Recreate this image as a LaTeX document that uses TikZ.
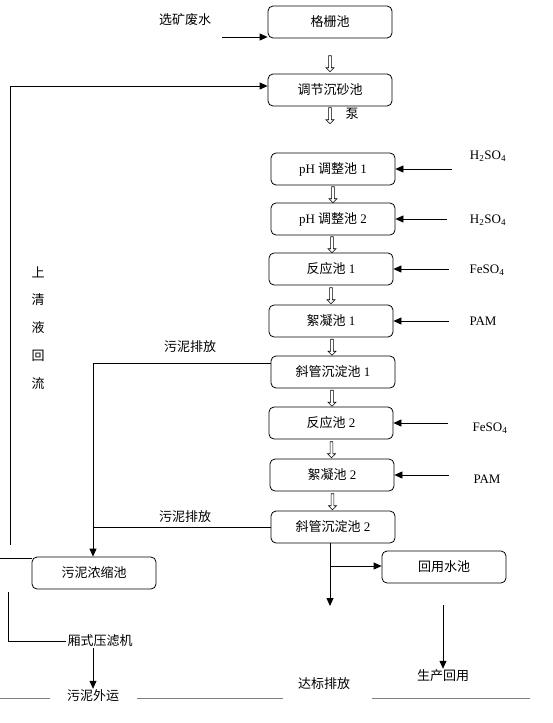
\documentclass[tikz,border=0pt]{standalone}
\usepackage{fontspec}
\setmainfont{Liberation Serif}
\newfontfamily\cjk{Noto Sans CJK SC}
\usepackage{tikz}
\usetikzlibrary{arrows.meta, shapes.arrows}
\tikzset{
    flowchart/.style={font=\fontsize{13}{15}\selectfont},
    pool/.style={rounded corners=5pt, draw, line width=0.8pt, align=center,
        minimum width=124pt, minimum height=32pt},
    flow arrow/.style={-{Triangle[length=8pt, width=7pt]}, line width=0.8pt},
    flow line/.style={line width=0.8pt},
    pipe/.style={draw, single arrow, shape border rotate=270, line width=0.6pt,
        minimum height=16pt, minimum width=8pt, inner sep=0.8pt,
        single arrow head extend=2pt, single arrow tip angle=90},
    plain label/.style={inner sep=1pt},
}

\begin{document}
\begin{tikzpicture}[flowchart, x=1pt, y=-1pt]
    \useasboundingbox (0,0) rectangle (552,723);

    % main line of pools
    \node[pool] (gezha) at (330,22) {\cjk 格栅池};
    \node[pool] (tiaojie) at (330,90) {\cjk 调节沉砂池};
    \node[pool] (ph1) at (333,169) {pH {\cjk 调整池} 1};
    \node[pool] (ph2) at (333,219) {pH {\cjk 调整池} 2};
    \node[pool] (fy1) at (331,269) {{\cjk 反应池} 1};
    \node[pool] (xn1) at (331,321) {{\cjk 絮凝池} 1};
    \node[pool] (xg1) at (333,372) {{\cjk 斜管沉淀池} 1};
    \node[pool] (fy2) at (331,423) {{\cjk 反应池} 2};
    \node[pool] (xn2) at (332,475) {{\cjk 絮凝池} 2};
    \node[pool] (xg2) at (333,527) {{\cjk 斜管沉淀池} 2};
    \node[pool] (huiyong) at (444,567) {\cjk 回用水池};
    \node[pool] (nongsuo) at (94,573) {\cjk 污泥浓缩池};

    % hollow arrows between pools
    \node[pipe] (p0) at (330,63) {};
    \node[pipe] (p1) at (330,115) {};
    \node[plain label] (beng) at (352,114) {\cjk 泵};
    \path (ph1) -- node[pipe] {} (ph2);
    \path (ph2) -- node[pipe] {} (fy1);
    \path (fy1) -- node[pipe] {} (xn1);
    \path (xn1) -- node[pipe] {} (xg1);
    \path (xg1) -- node[pipe] {} (fy2);
    \path (fy2) -- node[pipe] {} (xn2);
    \path (xn2) -- node[pipe] {} (xg2);

    % dosing
    \node[plain label] (h1) at (488,156) {H\textsubscript{2}SO\textsubscript{4}};
    \node[plain label] (h2) at (488,220) {H\textsubscript{2}SO\textsubscript{4}};
    \node[plain label] (fe1) at (487,270) {FeSO\textsubscript{4}};
    \node[plain label] (pam1) at (483,321) {PAM};
    \node[plain label] (fe2) at (490,428) {FeSO\textsubscript{4}};
    \node[plain label] (pam2) at (487,479) {PAM};
    \coordinate (d1) at (452,169);
    \coordinate (d2) at (447,219);
    \coordinate (d3) at (449,269);
    \coordinate (d4) at (449,321);
    \coordinate (d5) at (448,423);
    \coordinate (d6) at (449,475);
    \draw[flow arrow] (d1) -- (ph1.east);
    \draw[flow arrow] (d2) -- (ph2.east);
    \draw[flow arrow] (d3) -- (fy1.east);
    \draw[flow arrow] (d4) -- (xn1.east);
    \draw[flow arrow] (d5) -- (fy2.east);
    \draw[flow arrow] (d6) -- (xn2.east);

    % inflow
    \node[plain label] (feishui) at (185,20) {\cjk 选矿废水};
    \coordinate (in) at (222,37);
    \draw[flow arrow] (in) -- (gezha.west |- in);

    % supernatant return
    \coordinate (ret) at (10,545);
    \draw[flow arrow] (ret) |- (tiaojie.west |- 0,86);
    \foreach \ch [count=\i] in {上,清,液,回,流}
      \node[plain label, font=\fontsize{13}{14}\cjk] (sq\i) at (38,244+28*\i) {\ch};
    \coordinate (rl) at (0,558);
    \draw[flow line] (rl) -- (nongsuo.west |- rl);

    % sludge
    \node[plain label] (pf1) at (190,347) {\cjk 污泥排放};
    \node[plain label] (pf2) at (185,517) {\cjk 污泥排放};
    \coordinate (sj) at (93,527);
    \draw[flow arrow] (xg1.west |- 0,363) -| (nongsuo.north -| sj);
    \draw[flow line] (xg2.west) -- (sj);
    \node[plain label] (yalv) at (100,641) {\cjk 厢式压滤机};
    \coordinate (yl) at (8,592);
    \draw[flow line] (yl) |- (yalv.west);
    \node[plain label] (waiyun) at (93,696) {\cjk 污泥外运};
    \draw[flow arrow] (yalv.south -| waiyun) -- (waiyun.north);

    % clear water
    \coordinate (out) at (330,606);
    \draw[flow arrow] (xg2.south -| out) -- (out);
    \coordinate (br) at (330,566);
    \draw[flow arrow] (br) -- (huiyong.west |- br);
    \node[plain label] (dabiao) at (324,684) {\cjk 达标排放};
    \node[plain label] (shengchan) at (443,676) {\cjk 生产回用};
    \coordinate (hy) at (443,605);
    \draw[flow arrow] (hy) -- (shengchan.north);

    % page rules
    \draw[gray, line width=0.8pt] (0,698) -- (50,698) (137,698) -- (283,698) (372,698) -- (530,698);
\end{tikzpicture}
\end{document}
